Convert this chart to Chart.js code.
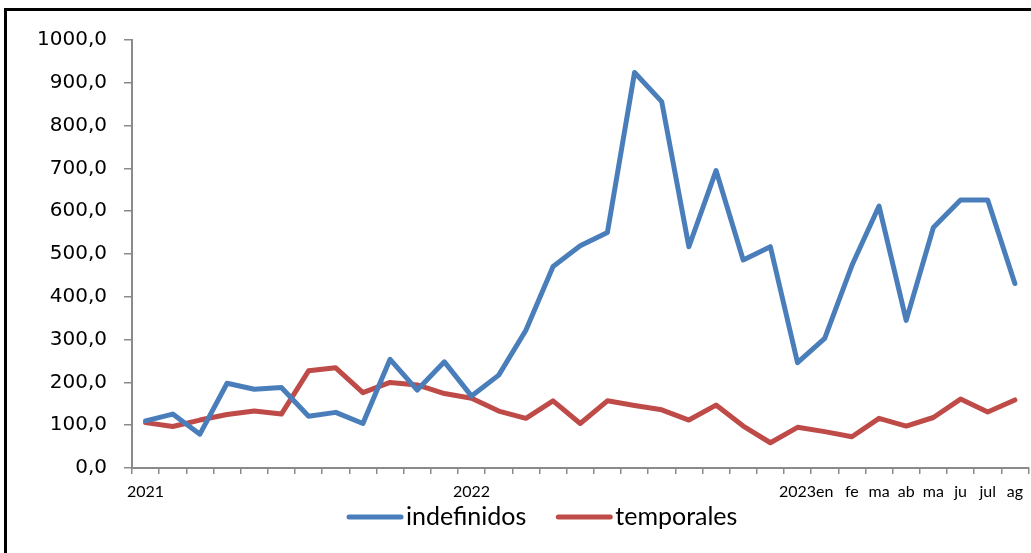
<!DOCTYPE html>
<html>
<head>
<meta charset="utf-8">
<script src="https://cdn.jsdelivr.net/npm/chart.js@4"></script>
<style>
html,body{margin:0;padding:0;background:#fff;overflow:hidden;}
#wrap{position:relative;width:1031px;height:553px;}
</style>
</head>
<body>
<div id="wrap"><canvas id="c" width="1031" height="553"></canvas></div>
<script>
const categories = ['2021','','','','','','','','','','','',
  '2022','','','','','','','','','','','',
  '2023','en','fe','ma','ab','ma','ju','jul','ag'];
const indefinidos = [110,126,79,198,184,188,121,130,104,254,182,248,
  168,217,322,471,519,550,924,856,517,695,486,517,
  246,303,473,612,345,562,626,626,431];
const temporales = [106,97,112,125,133,126,227,234,176,200,194,174,
  163,133,116,157,104,157,146,136,112,147,98,59,
  95,85,73,116,98,118,161,131,159];
const yTicks = [0,100,200,300,400,500,600,700,800,900,1000];
const seriesNames = ['indefinidos','temporales'];
const seriesColors = ['#4A7EBB','#BE4B48'];

const AXIS = '#8a8a8a';

const framePlugin = {
  id:'frame',
  beforeDraw(chart){
    const ctx = chart.ctx;
    ctx.save();
    ctx.fillStyle = '#fff';
    ctx.fillRect(0,0,chart.width,chart.height);
    ctx.fillStyle = '#000';
    ctx.fillRect(4,8,chart.width,3);
    ctx.fillRect(4,8,3,chart.height);
    ctx.restore();
  }
};

const legendPlugin = {
  id:'customLegend',
  afterDraw(chart){
    const ctx = chart.ctx;
    ctx.save();
    ctx.font = '25px Lato';
    ctx.textBaseline = 'middle';
    const y = 517;
    let x = 349;
    chart.data.datasets.forEach((ds, i) => {
      ctx.strokeStyle = ds.borderColor;
      ctx.lineWidth = 5;
      ctx.lineCap = 'round';
      ctx.beginPath();
      ctx.moveTo(x, y);
      ctx.lineTo(x + 52, y);
      ctx.stroke();
      ctx.fillStyle = '#000';
      ctx.fillText(ds.label, x + 57, y);
      x += 57 + ctx.measureText(ds.label).width + 32;
    });
    ctx.restore();
  }
};

new Chart(document.getElementById('c'), {
  type:'line',
  data:{
    labels: categories,
    datasets:[
      {label:seriesNames[0], data:indefinidos, borderColor:seriesColors[0], backgroundColor:seriesColors[0],
       borderWidth:5, pointRadius:0, tension:0, borderJoinStyle:'round', borderCapStyle:'round'},
      {label:seriesNames[1], data:temporales, borderColor:seriesColors[1], backgroundColor:seriesColors[1],
       borderWidth:5, pointRadius:0, tension:0, borderJoinStyle:'round', borderCapStyle:'round'}
    ]
  },
  options:{
    responsive:false,
    animation:false,
    devicePixelRatio:1,
    layout:{padding:{top:40,right:0,left:0,bottom:0}},
    plugins:{legend:{display:false}, tooltip:{enabled:false}, title:{display:false}},
    scales:{
      x:{
        type:'category',
        offset:true,
        grid:{display:true, offset:true, drawOnChartArea:false, drawTicks:true, tickLength:6, color:AXIS, lineWidth:1.5},
        border:{display:true, color:AXIS, width:2},
        ticks:{autoSkip:false, maxRotation:0, minRotation:0, padding:8, color:'#000', font:{family:'Lato', size:16}},
        afterFit(s){ s.height = 85; }
      },
      y:{
        min:0, max:1000,
        afterBuildTicks(s){ s.ticks = yTicks.map(v => ({value:v})); },
        grid:{display:true, drawOnChartArea:false, drawTicks:true, tickLength:8, color:AXIS, lineWidth:1.5},
        border:{display:true, color:AXIS, width:2},
        ticks:{padding:17, color:'#000', font:{family:'DejaVu Sans', size:20},
          callback:(v)=> v.toFixed(1).replace('.', ',')},
        afterFit(s){ s.width = 132; }
      }
    }
  },
  plugins:[framePlugin, legendPlugin]
});
</script>
</body>
</html>
